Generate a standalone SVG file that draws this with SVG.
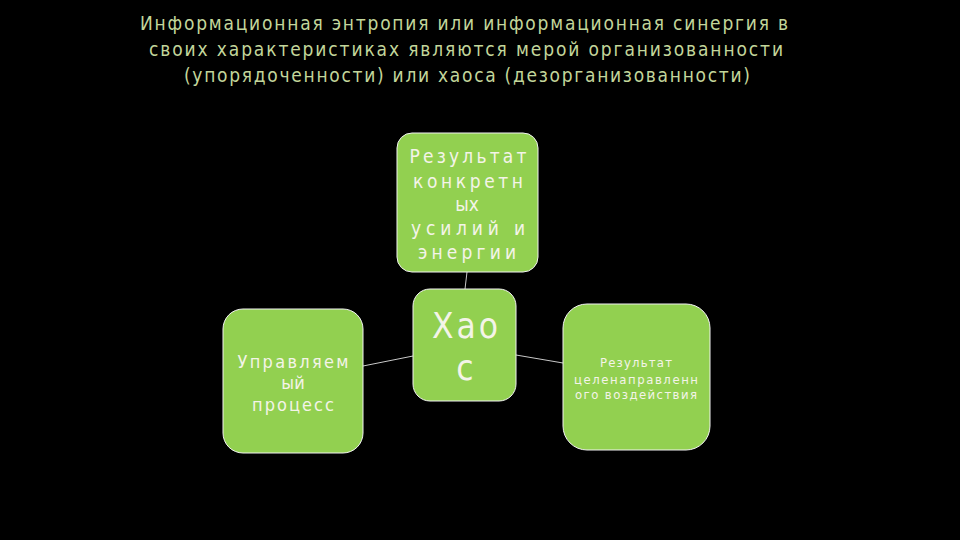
<svg xmlns="http://www.w3.org/2000/svg" width="960" height="540" viewBox="0 0 960 540">
<style>
.title{font-family:"DejaVu Sans Condensed","DejaVu Sans","Liberation Sans",sans-serif;font-stretch:condensed;font-size:19px;fill:#c3d69b;text-anchor:middle}
.box{fill:#92d050;stroke:#f2f2f2;stroke-width:1}
.lbl{font-family:"DejaVu Sans Condensed","DejaVu Sans","Liberation Sans",sans-serif;font-stretch:condensed;fill:#f4f4e8;text-anchor:middle}
.conn{stroke:#c8c8c8;stroke-width:1;fill:none}
</style>
<rect width="960" height="540" fill="#000"/>
<g id="title">
<text class="title" x="464" y="30" textLength="648" lengthAdjust="spacing">Информационная энтропия или информационная синергия в</text>
<text class="title" x="466" y="56" textLength="634" lengthAdjust="spacing">своих характеристиках являются мерой организованности</text>
<text class="title" x="467" y="82" textLength="566" lengthAdjust="spacing">(упорядоченности) или хаоса (дезорганизованности)</text>
</g>
<g id="connectors">
<line class="conn" x1="467" y1="272" x2="465" y2="289"/>
<line class="conn" x1="363" y1="366" x2="413" y2="356"/>
<line class="conn" x1="516" y1="355" x2="563" y2="363"/>
</g>
<g id="node-top">
<rect class="box" x="397" y="133" width="141" height="139" rx="15"/>
<text class="lbl" font-size="19" x="468" y="163" textLength="117" lengthAdjust="spacing">Результат</text>
<text class="lbl" font-size="19" x="468" y="188" textLength="110" lengthAdjust="spacing">конкретн</text>
<text class="lbl" font-size="19" x="467" y="211">ых</text>
<text class="lbl" font-size="19" x="468" y="235" textLength="114" lengthAdjust="spacing">усилий и</text>
<text class="lbl" font-size="19" x="467" y="259" textLength="98" lengthAdjust="spacing">энергии</text>
</g>
<g id="node-center">
<rect class="box" x="413" y="289" width="103" height="112" rx="17"/>
<text class="lbl" font-size="35" x="465" y="338" textLength="66" lengthAdjust="spacing">Хао</text>
<text class="lbl" font-size="35" x="465" y="380">с</text>
</g>
<g id="node-left">
<rect class="box" x="223" y="309" width="140" height="144" rx="20"/>
<text class="lbl" font-size="18" x="293" y="368" textLength="111" lengthAdjust="spacing">Управляем</text>
<text class="lbl" font-size="18" x="293" y="389">ый</text>
<text class="lbl" font-size="18" x="293" y="411" textLength="82" lengthAdjust="spacing">процесс</text>
</g>
<g id="node-right">
<rect class="box" x="563" y="304" width="147" height="146" rx="24"/>
<text class="lbl" font-size="13" x="636" y="367" textLength="72" lengthAdjust="spacing">Результат</text>
<text class="lbl" font-size="13" x="636" y="384" textLength="124" lengthAdjust="spacing">целенаправленн</text>
<text class="lbl" font-size="13" x="636" y="399" textLength="122" lengthAdjust="spacing">ого воздействия</text>
</g>
</svg>
